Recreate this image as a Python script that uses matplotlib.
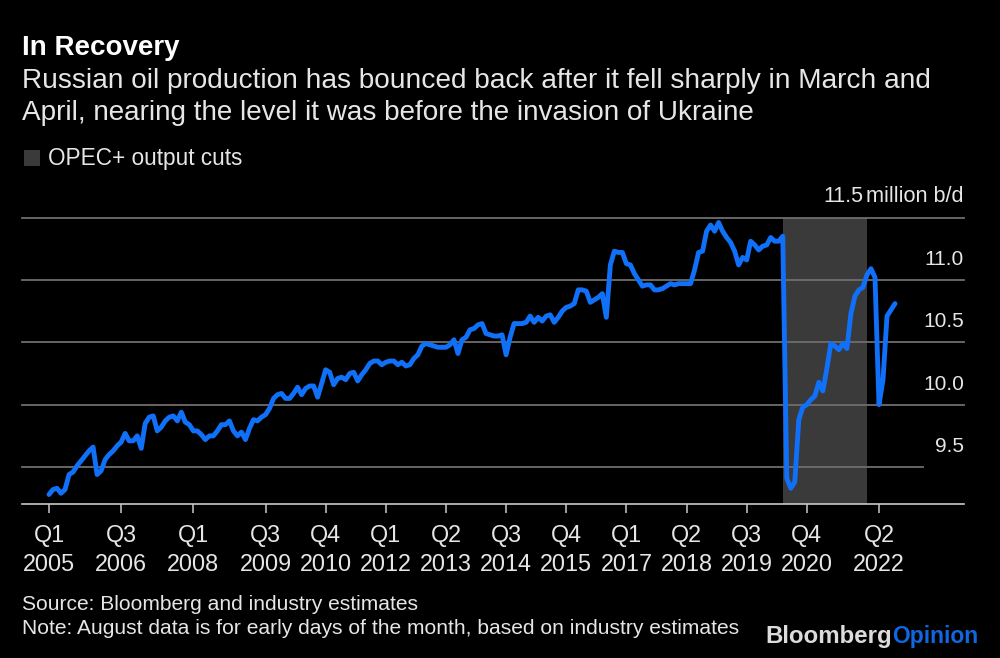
import matplotlib
matplotlib.use('Agg')
import matplotlib.pyplot as plt

# monthly output, million b/d, Jan 2005 - Aug 2022
production = [
    9.28, 9.32, 9.33, 9.29, 9.32, 9.44, 9.46, 9.51, 9.55, 9.59, 9.63, 9.66,
    9.44, 9.47, 9.56, 9.60, 9.63, 9.67, 9.70, 9.77, 9.71, 9.71, 9.75, 9.65,
    9.85, 9.90, 9.91, 9.79, 9.82, 9.87, 9.90, 9.91, 9.87, 9.94, 9.86, 9.84,
    9.79, 9.79, 9.76, 9.72, 9.75, 9.75, 9.79, 9.84, 9.84, 9.87, 9.79, 9.75,
    9.78, 9.72, 9.81, 9.88, 9.87, 9.90, 9.92, 9.97, 10.05, 10.08, 10.09, 10.05,
    10.05, 10.09, 10.14, 10.08, 10.13, 10.15, 10.15, 10.06, 10.17, 10.28, 10.26, 10.16,
    10.21, 10.22, 10.20, 10.25, 10.26, 10.19, 10.24, 10.28, 10.33, 10.35, 10.35, 10.32,
    10.34, 10.35, 10.35, 10.32, 10.34, 10.31, 10.32, 10.37, 10.40, 10.47, 10.49, 10.48,
    10.47, 10.46, 10.46, 10.46, 10.48, 10.52, 10.41, 10.52, 10.54, 10.60, 10.61, 10.64,
    10.65, 10.57, 10.56, 10.55, 10.55, 10.56, 10.40, 10.54, 10.65, 10.65, 10.65, 10.66,
    10.71, 10.66, 10.70, 10.67, 10.71, 10.72, 10.66, 10.70, 10.75, 10.78, 10.79, 10.81,
    10.92, 10.92, 10.91, 10.82, 10.84, 10.86, 10.89, 10.70, 11.12, 11.23, 11.22, 11.22,
    11.13, 11.12, 11.05, 11.00, 10.95, 10.96, 10.96, 10.92, 10.92, 10.93, 10.95, 10.97,
    10.96, 10.97, 10.97, 10.97, 10.97, 11.08, 11.22, 11.23, 11.39, 11.44, 11.39, 11.46,
    11.39, 11.34, 11.30, 11.23, 11.12, 11.18, 11.16, 11.31, 11.28, 11.24, 11.27, 11.28,
    11.34, 11.31, 11.31, 11.35, 9.41, 9.33, 9.38, 9.88, 9.98, 10.00, 10.04, 10.07,
    10.18, 10.11, 10.29, 10.49, 10.47, 10.44, 10.49, 10.45, 10.73, 10.87, 10.92, 10.94,
    11.04, 11.09, 11.02, 10.00, 10.20, 10.71, 10.76, 10.81,
]
months = list(range(len(production)))

tick_months = [0, 18, 36, 54, 69, 84, 99, 114, 129, 144, 159, 174, 189, 207]
tick_labels = ['Q1\n2005', 'Q3\n2006', 'Q1\n2008', 'Q3\n2009', 'Q4\n2010', 'Q1\n2012', 'Q2\n2013',
               'Q3\n2014', 'Q4\n2015', 'Q1\n2017', 'Q2\n2018', 'Q3\n2019', 'Q4\n2020', 'Q2\n2022']
grid_values = [9.5, 10.0, 10.5, 11.0, 11.5]
grid_labels = ['9.5', '10.0', '10.5', '11.0', '11.5']
cut_start, cut_end = 183, 204

W, H = 1000, 658
plt.rcParams['font.family'] = ['Liberation Sans', 'DejaVu Sans']

fig = plt.figure(figsize=(W / 100, H / 100), dpi=100, facecolor='black')
ax = fig.add_axes([22 / W, 1 - 503.5 / H, (964 - 22) / W, (503.5 - 217.5) / H], facecolor='black')
ax.set_xlim(-6.73, 228.2)
ax.set_ylim(9.208, 11.5)

band = ax.axvspan(cut_start, cut_end, color='#3a3a3a', lw=0, zorder=1, label='OPEC+ output cuts')
for v, lab in zip(grid_values, grid_labels):
    # lowest gridline stops short of the axis end
    xmax = 0.957 if v == 9.5 else 1
    ax.axhline(v, xmax=xmax, color='#6e6e6e', lw=1.3, zorder=2, clip_on=False)
    if v == 11.5:
        ax.annotate('11.5', (1, v), xycoords=('axes fraction', 'data'), xytext=(-101, 11), textcoords='offset pixels',
                    ha='right', va='bottom', color='#e6e6e6', fontsize=15.5)
        ax.annotate('million b/d', (1, v), xycoords=('axes fraction', 'data'), xytext=(0, 11), textcoords='offset pixels',
                    ha='right', va='bottom', color='#e6e6e6', fontsize=15.6)
    else:
        ax.annotate(lab, (1, v), xycoords=('axes fraction', 'data'), xytext=(0, 11), textcoords='offset pixels',
                    ha='right', va='bottom', color='#e6e6e6', fontsize=15)

ax.plot(months, production, color='#1070f8', lw=3.5, solid_joinstyle='round', solid_capstyle='round', zorder=3)

for side in ['top', 'left', 'right']:
    ax.spines[side].set_visible(False)
ax.spines['bottom'].set_color('#c8c8c8')
ax.spines['bottom'].set_linewidth(1.2)
ax.set_yticks([])
ax.set_xticks(tick_months)
ax.set_xticklabels(tick_labels, color='#e6e6e6', fontsize=16.8, linespacing=1.33)
ax.tick_params(axis='x', length=6.5, width=1.1, color='#c8c8c8', pad=8)

fig.text(22 / W, 1 - 48 / H, 'In Recovery', color='white', fontsize=20, fontweight='bold', va='center')
fig.text(22 / W, 1 - 81 / H, 'Russian oil production has bounced back after it fell sharply in March and',
         color='#e6e6e6', fontsize=20.2, va='center')
fig.text(22 / W, 1 - 113 / H, 'April, nearing the level it was before the invasion of Ukraine',
         color='#e6e6e6', fontsize=20.1, va='center')

leg = fig.legend(handles=[band], loc='center left', bbox_to_anchor=(3.5 / W, 1 - 159 / H), frameon=False,
                 fontsize=16.3, handlelength=0.72, handleheight=0.72, handletextpad=0.35, labelcolor='#e6e6e6')

fig.text(22 / W, 1 - 605 / H, 'Source: Bloomberg and industry estimates', color='#e6e6e6', fontsize=15.1, va='center')
fig.text(22 / W, 1 - 628 / H, 'Note: August data is for early days of the month, based on industry estimates',
         color='#e6e6e6', fontsize=15.1, va='center')

fig.text(892 / W, 1 - 637 / H, 'Bloomberg', color='#dcdcdc', fontsize=17.3, fontweight='bold', ha='right', va='center')
fig.text(892 / W, 1 - 637 / H, 'Opinion', color='#1068e0', fontsize=16.5, fontweight='bold', ha='left', va='center')

fig.savefig('out.png', dpi=100, facecolor='black')
